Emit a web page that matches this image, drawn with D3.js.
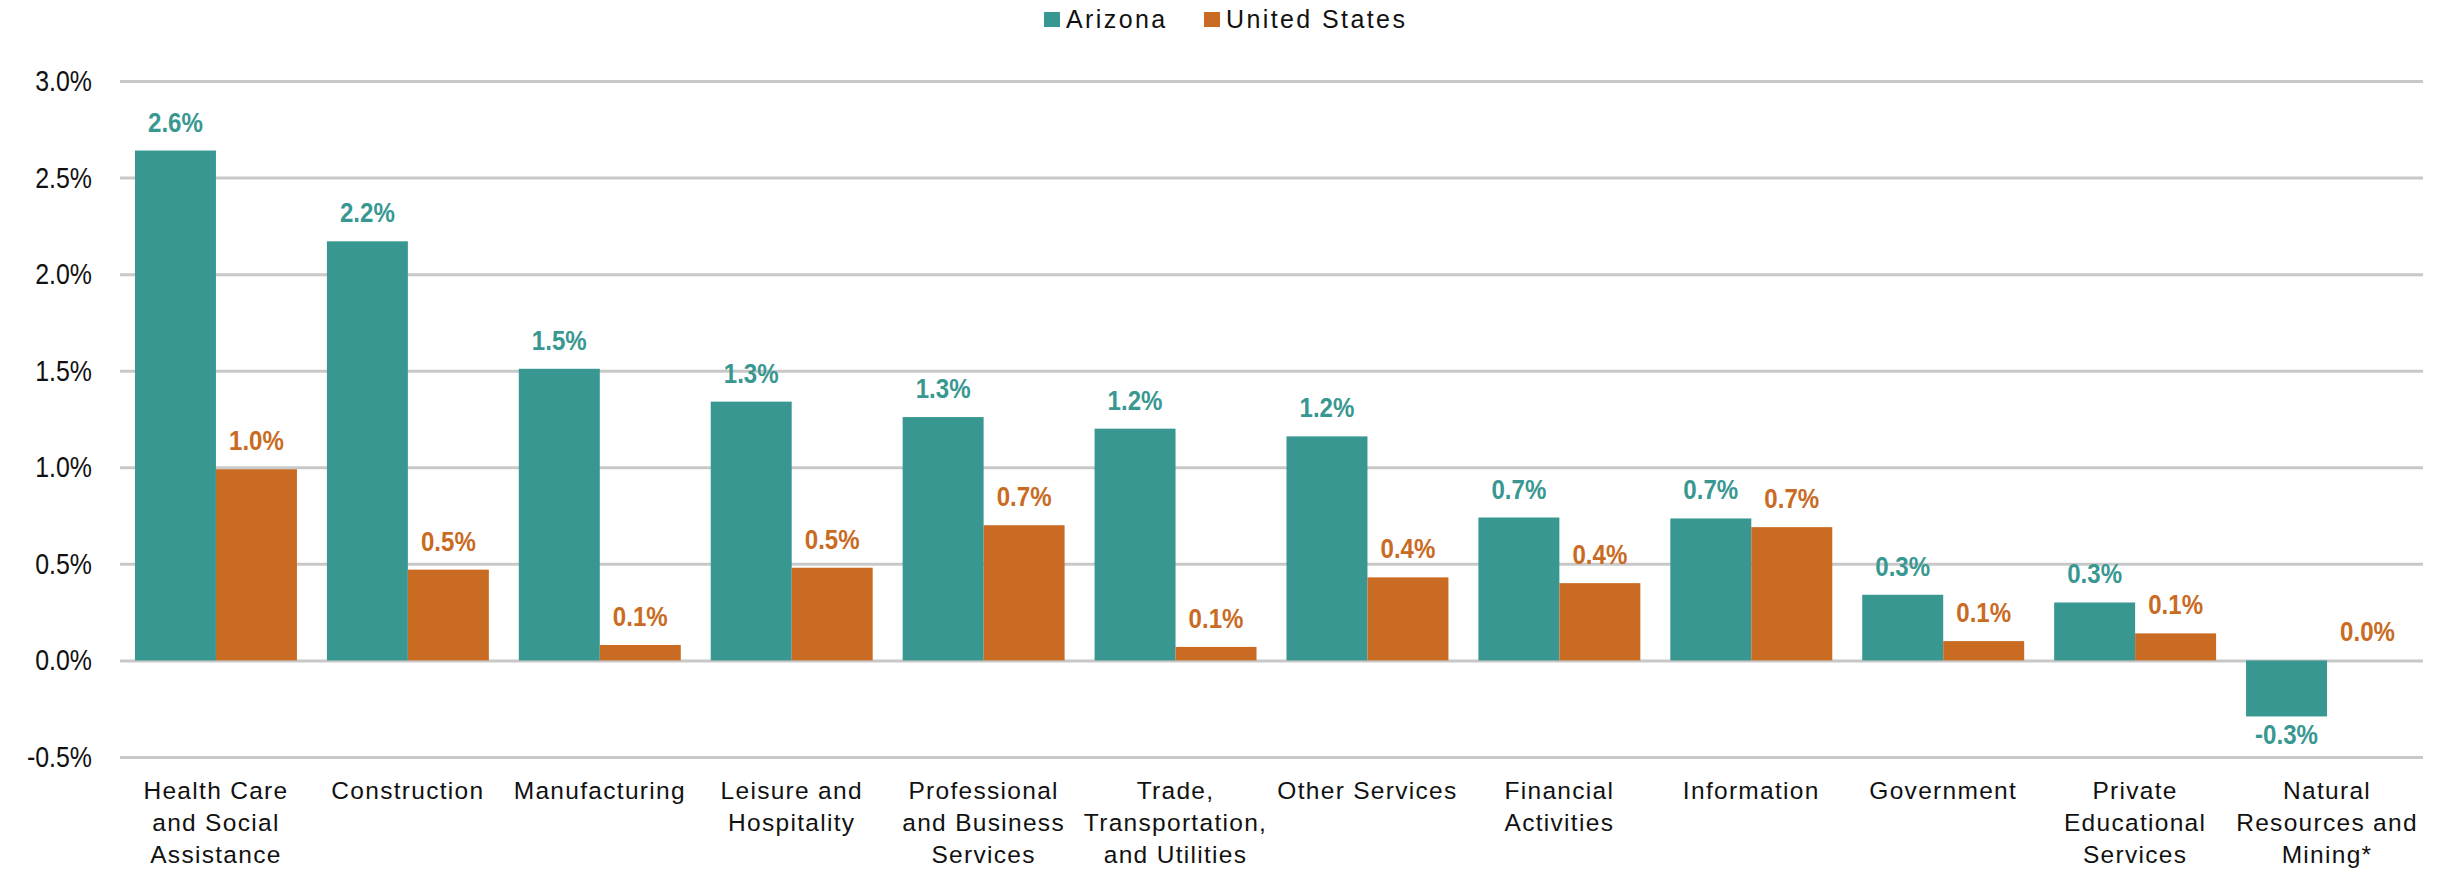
<!DOCTYPE html>
<html>
<head>
<meta charset="utf-8">
<script src="https://cdn.jsdelivr.net/npm/d3@7"></script>
<style>
  html, body { margin: 0; padding: 0; background: #fff; }
  svg { display: block; font-family: 'Liberation Sans', Arial, sans-serif; }
</style>
</head>
<body>
<svg id="app" width="2448" height="869"></svg>
<script>
const svg = d3.select('#app')

// data (percent change)
const categories = ['Health Care|and Social|Assistance', 'Construction', 'Manufacturing', 'Leisure and|Hospitality',
  'Professional|and Business|Services', 'Trade,|Transportation,|and Utilities', 'Other Services', 'Financial|Activities',
  'Information', 'Government', 'Private|Educational|Services', 'Natural|Resources and|Mining*']
const series = ['Arizona', 'United States']
const arizona = [2.64, 2.17, 1.51, 1.34, 1.26, 1.20, 1.16, 0.74, 0.735, 0.34, 0.30, -0.29]
const unitedStates = [0.99, 0.47, 0.08, 0.48, 0.70, 0.07, 0.43, 0.40, 0.69, 0.10, 0.14, 0.00]
const yTicks = [-0.5, 0, 0.5, 1.0, 1.5, 2.0, 2.5, 3.0]

const colors = { 'Arizona': '#389891', 'United States': '#c96b22' }
const gridColor = '#c8c8c8'
const squeeze = 0.86

const locale = d3.formatLocale({ decimal: '.', thousands: ',', grouping: [3], currency: ['$', ''], minus: '-' })
const fmt = locale.format('.1%')

const left = 120, right = 2423
const x = d3.scaleBand().domain(categories).range([left, right])
const xs = d3.scaleBand().domain(series).range([0, x.bandwidth()]).paddingOuter(0.185)
const y = d3.scaleLinear().domain([-0.5, 3.0]).range([757, 81])

// gridlines
const grid = svg.append('g')
  .attr('transform', `translate(${left},0)`)
  .call(d3.axisLeft(y).tickValues(yTicks).tickSize(-(right - left)).tickFormat(''))
grid.select('.domain').remove()
grid.selectAll('line').attr('stroke', gridColor).attr('stroke-width', 3)

// y labels
svg.append('g').selectAll('text')
  .data(yTicks)
  .enter()
  .append('text')
  .attr('transform', d => `translate(92,${y(d) + 10}) scale(${squeeze},1)`)
  .attr('text-anchor', 'end')
  .attr('font-size', 29)
  .attr('fill', '#111')
  .text(d => fmt(d / 100))

const rows = categories.map((c, i) => ({ cat: c, values: [
  { s: 'Arizona', v: arizona[i] },
  { s: 'United States', v: unitedStates[i] }
] }))

const groups = svg.append('g').selectAll('g')
  .data(rows)
  .enter()
  .append('g')
  .attr('transform', d => `translate(${x(d.cat)},0)`)

groups.selectAll('rect')
  .data(d => d.values)
  .enter()
  .append('rect')
  .attr('x', d => xs(d.s))
  .attr('width', xs.bandwidth())
  .attr('y', d => y(Math.max(0, d.v)))
  .attr('height', d => Math.abs(y(d.v) - y(0)))
  .attr('fill', d => colors[d.s])

// value labels
groups.selectAll('text')
  .data(d => d.values)
  .enter()
  .append('text')
  .attr('transform', d => {
    const cx = xs(d.s) + xs.bandwidth() / 2
    const ty = d.v < 0 ? y(d.v) + 28 : y(d.v) - 19
    return `translate(${cx},${ty}) scale(${squeeze},1)`
  })
  .attr('text-anchor', 'middle')
  .attr('font-size', 28)
  .attr('font-weight', 'bold')
  .attr('fill', d => colors[d.s])
  .text(d => fmt(d.v / 100))

// category labels
const catText = svg.append('g').selectAll('text')
  .data(categories)
  .enter()
  .append('text')
  .attr('x', d => x(d) + x.bandwidth() / 2)
  .attr('y', 799)
  .attr('text-anchor', 'middle')
  .attr('font-size', 24.5)
  .attr('letter-spacing', 1.3)
  .attr('fill', '#111')

catText.selectAll('tspan')
  .data(d => d.split('|').map(t => ({ t, cx: x(d) + x.bandwidth() / 2 })))
  .enter()
  .append('tspan')
  .attr('x', d => d.cx)
  .attr('dy', (d, i) => i === 0 ? 0 : 32)
  .text(d => d.t)

// legend
const legend = svg.append('g')
const legendX = [1044, 1204]
series.forEach((s, i) => {
  legend.append('rect')
    .attr('x', legendX[i])
    .attr('y', 12)
    .attr('width', 16)
    .attr('height', 15)
    .attr('fill', colors[s])
  legend.append('text')
    .attr('x', legendX[i] + 22)
    .attr('y', 28)
    .attr('font-size', 25)
    .attr('letter-spacing', 2.4)
    .attr('fill', '#111')
    .text(s)
})
</script>
</body>
</html>
